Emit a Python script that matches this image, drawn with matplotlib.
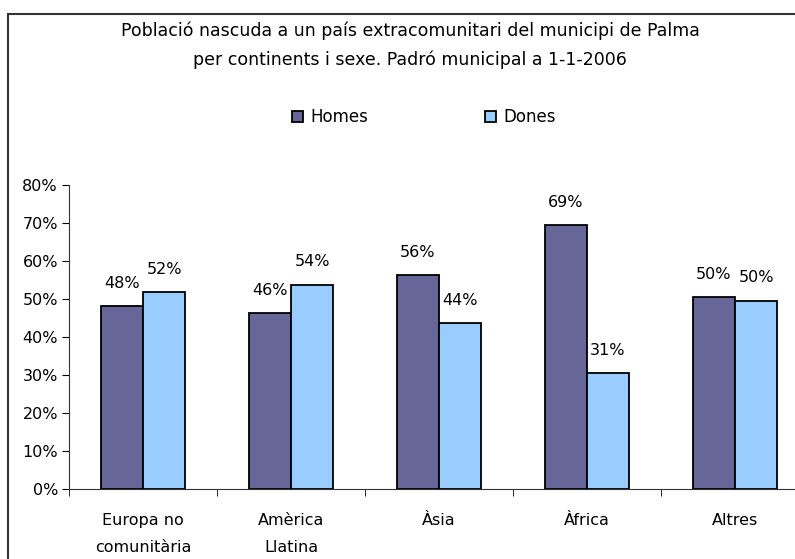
import numpy as np
import matplotlib.pyplot as plt
from matplotlib.patches import Rectangle
from matplotlib.ticker import PercentFormatter

plt.rcParams['font.family'] = ['DejaVu Sans']

categories = ['Europa no\ncomunitària', 'Amèrica\nLlatina', 'Àsia', 'Àfrica', 'Altres']
homes = [0.482, 0.462, 0.563, 0.695, 0.504]
dones = [0.518, 0.538, 0.437, 0.305, 0.496]
homes_labels = ['48%', '46%', '56%', '69%', '50%']
dones_labels = ['52%', '54%', '44%', '31%', '50%']

fs = 11.5

fig = plt.figure(figsize=(7.95, 5.59), dpi=100)
ax = fig.add_axes([69/795, 70/559, 740/795, 304/559])

x = np.arange(len(categories))
w = 0.284
b1 = ax.bar(x - w/2, homes, w, color='#666699', edgecolor='black', linewidth=1.3, label='Homes')
b2 = ax.bar(x + w/2, dones, w, color='#99CCFF', edgecolor='black', linewidth=1.3, label='Dones')

for i in range(len(categories)):
    ax.text(x[i] - w/2, homes[i] + 0.06, homes_labels[i], ha='center', va='center', fontsize=fs)
    ax.text(x[i] + w/2, dones[i] + 0.06, dones_labels[i], ha='center', va='center', fontsize=fs)

ax.set_xlim(-0.5, len(categories) - 0.5)
ax.set_ylim(0, 0.8)
ax.set_yticks(np.arange(0, 0.81, 0.1))
ax.yaxis.set_major_formatter(PercentFormatter(1.0, decimals=0))
ax.set_xticks(x)
ax.set_xticklabels(categories, fontsize=fs, linespacing=2.0)
ax.set_xticks(np.arange(-0.5, len(categories)), minor=True)
ax.tick_params(axis='x', which='major', length=0, pad=17)
ax.tick_params(axis='x', which='minor', length=5, direction='out')
ax.tick_params(axis='y', length=5, direction='out', labelsize=fs, pad=3)
for s in ['top', 'right']:
    ax.spines[s].set_visible(False)
for s in ['left', 'bottom']:
    ax.spines[s].set_color('#333333')

fig.text(410/795, 1 - 45/559, 'Població nascuda a un país extracomunitari del municipi de Palma\nper continents i sexe. Padró municipal a 1-1-2006',
         ha='center', va='center', fontsize=12.5, linespacing=1.7)

fig.legend(handles=[b1, b2], loc='center', bbox_to_anchor=(424/795, 1 - 117/559), ncol=2,
           frameon=False, fontsize=12, handlelength=0.65, handleheight=0.65,
           handletextpad=0.45, columnspacing=7.0)

fig.patches.append(Rectangle((8/795, -0.1), 1.0, 1 - 14/559 + 0.1, transform=fig.transFigure,
                             fill=False, edgecolor='#333333', linewidth=1.5))

fig.savefig('out.png', dpi=100)
